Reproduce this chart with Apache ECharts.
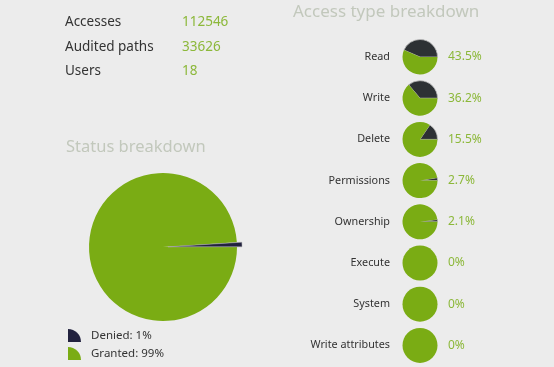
<!DOCTYPE html>
<html><head><meta charset="utf-8">
<script src="https://cdn.jsdelivr.net/npm/echarts@6/dist/echarts.min.js"></script>
<style>html,body{margin:0;padding:0;background:#ececec}#c{width:554px;height:367px}</style>
</head><body><div id="c"></div>
<script>
var statLabels = ['Accesses', 'Audited paths', 'Users'];
var statValues = ['112546', '33626', '18'];
var statusNames = ['Denied', 'Granted'];
var statusValues = [1, 99];
var accessTypes = ['Read', 'Write', 'Delete', 'Permissions', 'Ownership', 'Execute', 'System', 'Write attributes'];
var accessPct = [43.5, 36.2, 15.5, 2.7, 2.1, 0, 0, 0];

var FONT = '"Noto Sans", "Open Sans", sans-serif';
var GREEN = '#7aac14', DARK = '#2d3134', NAVY = '#22223f';
var chart = echarts.init(document.getElementById('c'));
var graphic = [];
var series = [];

graphic.push({type:'text', left:293, top:4, style:{text:'Access type breakdown', font:'17px ' + FONT, fill:'#c2c8bc'}});
graphic.push({type:'text', left:66, top:139, style:{text:'Status breakdown', font:'16.5px ' + FONT, fill:'#c2c8bc'}});
statLabels.forEach(function(l, i){
  var y = 22.5 + i * 24.5;
  graphic.push({type:'text', x:65, y:y, style:{text:l, font:'13.5px ' + FONT, fill:'#333', verticalAlign:'middle'}});
  graphic.push({type:'text', x:182, y:y, style:{text:statValues[i], font:'13.5px ' + FONT, fill:'#8cb83a', verticalAlign:'middle'}});
});

series.push({
  type:'pie', center:[163, 247], radius:74, startAngle:0, clockwise:false,
  selectedMode:'single', selectedOffset:5, silent:true, animation:false,
  label:{show:false}, labelLine:{show:false},
  data: statusNames.map(function(n, i){
    return {name:n, value:statusValues[i], selected: i === 0,
      itemStyle:{color: i === 0 ? NAVY : GREEN, borderColor: i === 0 ? '#aaa' : 'transparent', borderWidth: i === 0 ? 0.5 : 0}};
  })
});

accessTypes.forEach(function(t, i){
  var cy = 57 + i * 41.2;
  series.push({
    type:'pie', center:[420, cy], radius:17.5, startAngle:0, clockwise:false,
    silent:true, animation:false, label:{show:false}, labelLine:{show:false},
    data:[
      {name:t, value:accessPct[i], itemStyle:{color:DARK, borderColor:'#bbb', borderWidth: accessPct[i] > 0 ? 0.8 : 0}},
      {name:t + ' other', value:100 - accessPct[i], itemStyle:{color:GREEN}}
    ]
  });
  graphic.push({type:'text', x:390, y:cy, style:{text:t, font:'10.8px ' + FONT, fill:'#333', align:'right', verticalAlign:'middle'}});
  graphic.push({type:'text', x:448, y:cy, style:{text:accessPct[i] + '%', font:'12px ' + FONT, fill:'#8cb83a', verticalAlign:'middle'}});
});

chart.setOption({
  backgroundColor:'#ececec',
  animation:false,
  legend:{
    data: statusNames, orient:'vertical', left:68, top:329, padding:0,
    itemWidth:17, itemHeight:13, itemGap:5, selectedMode:false,
    icon:'path://M0,20 L0,0 A20,20 0 0,1 20,20 Z',
    itemStyle:{borderWidth:0},
    textStyle:{fontFamily:FONT, fontSize:11.5, color:'#333', padding:[0,0,0,3]},
    formatter:function(n){ return n + ': ' + statusValues[statusNames.indexOf(n)] + '%'; }
  },
  graphic: graphic,
  series: series
});
</script></body></html>
